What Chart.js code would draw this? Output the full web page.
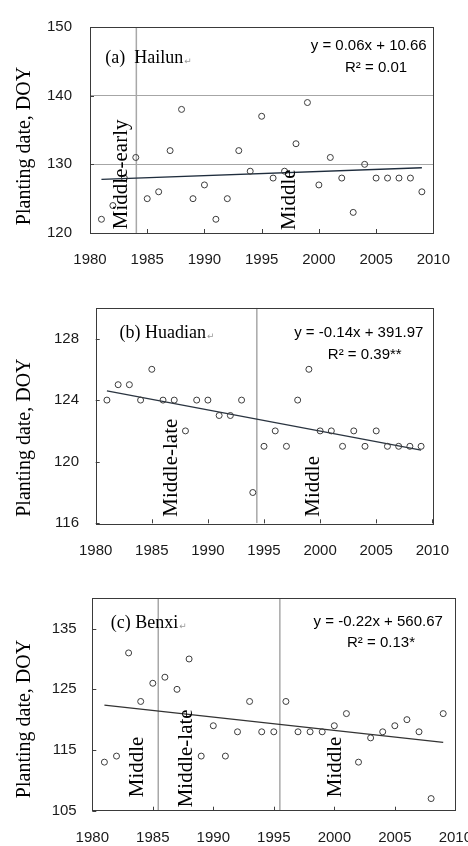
<!DOCTYPE html>
<html>
<head>
<meta charset="utf-8">
<script src="https://cdn.jsdelivr.net/npm/chart.js@4"></script>
<style>
  html, body { margin: 0; padding: 0; width: 468px; height: 846px; overflow: hidden; background: #fff; }
  canvas { position: absolute; left: 0; }
</style>
</head>
<body>
<canvas id="chartA" width="468" height="280" style="top:0px"></canvas>
<canvas id="chartB" width="468" height="285" style="top:280px"></canvas>
<canvas id="chartC" width="490" height="281" style="top:565px"></canvas>
<script>
//data
var years = [1981, 1982, 1983, 1984, 1985, 1986, 1987, 1988, 1989, 1990,
  1991, 1992, 1993, 1994, 1995, 1996, 1997, 1998, 1999, 2000,
  2001, 2002, 2003, 2004, 2005, 2006, 2007, 2008, 2009];

var hailun = [122, 124, 128, 131, 125, 126, 132, 138, 125, 127,
  122, 125, 132, 129, 137, 128, 129, 133, 139, 127,
  131, 128, 123, 130, 128, 128, 128, 128, 126];
var huadian = [124, 125, 125, 124, 126, 124, 124, 122, 124, 124,
  123, 123, 124, 118, 121, 122, 121, 124, 126, 122,
  122, 121, 122, 121, 122, 121, 121, 121, 121];
var benxi = [113, 114, 131, 123, 126, 127, 125, 130, 114, 119,
  114, 118, 123, 118, 118, 123, 118, 118, 118, 119,
  121, 113, 117, 118, 119, 120, 118, 107, 121];

// trend line ends
var trendYears = [1981, 2009];
var trendA = [127.8, 129.5];
var trendB = [124.6, 120.75];
var trendC = [122.4, 116.25];

// years where the cultivar period changes
var breaksA = [1984.05];
var breaksB = [1994.36];
var breaksC = [1985.45, 1995.5];

var xTicks = [1980, 1985, 1990, 1995, 2000, 2005, 2010];
var yTicksA = [120, 130, 140, 150];
var yTicksB = [116, 120, 124, 128];
var yTicksC = [105, 115, 125, 135];

var sans = '"Liberation Sans", Arial, sans-serif';
var serif = '"Liberation Serif", "Times New Roman", serif';

function toPoints(xs, ys) {
  return xs.map(function (x, i) { return { x: x, y: ys[i] }; });
}

function drawLabel(ctx, chart, item) {
  var px = chart.scales.x.getPixelForValue(item.x);
  var py = chart.scales.y.getPixelForValue(item.y);
  ctx.save();
  ctx.translate(px, py);
  if (item.rotate) ctx.rotate(-Math.PI / 2);
  ctx.font = item.font;
  ctx.fillStyle = '#000';
  ctx.textAlign = item.align || 'left';
  ctx.textBaseline = 'middle';
  ctx.fillText(item.text, 0, 0);
  if (item.mark) {
    var w = ctx.measureText(item.text).width;
    ctx.font = '9px "DejaVu Sans"';
    ctx.fillStyle = '#9a9a9a';
    ctx.textAlign = 'left';
    ctx.fillText('\u21b5', w + 1, 3);
  }
  ctx.restore();
}

function makePanel(id, p) {
  var canvas = document.getElementById(id);
  var W = canvas.width, H = canvas.height;

  var datasets = [{
    type: 'scatter',
    data: toPoints(years, p.values),
    pointRadius: 3,
    pointBorderWidth: 1,
    pointBorderColor: '#3c3c3c',
    pointBackgroundColor: 'rgba(255,255,255,0)',
    showLine: false
  }, {
    type: 'line',
    data: toPoints(trendYears, p.trend),
    borderColor: p.trendColor,
    borderWidth: 1.3,
    pointRadius: 0,
    fill: false
  }];
  p.breaks.forEach(function (b) {
    datasets.push({
      type: 'line',
      data: [{ x: b, y: p.yMin }, { x: b, y: p.yMax }],
      borderColor: '#a8a8a8',
      borderWidth: 1.5,
      pointRadius: 0,
      fill: false
    });
  });

  var deco = {
    id: 'deco' + id,
    afterDraw: function (chart) {
      var ctx = chart.ctx, a = chart.chartArea;
      ctx.save();
      // inner ticks on both axes
      ctx.strokeStyle = '#404040';
      ctx.lineWidth = 1;
      xTicks.forEach(function (t) {
        var x = Math.round(chart.scales.x.getPixelForValue(t)) + 0.5;
        ctx.beginPath();
        ctx.moveTo(x, a.bottom);
        ctx.lineTo(x, a.bottom - 4);
        ctx.stroke();
      });
      p.yTicks.forEach(function (t) {
        var y = Math.round(chart.scales.y.getPixelForValue(t)) + 0.5;
        ctx.beginPath();
        ctx.moveTo(a.left, y);
        ctx.lineTo(a.left + 4, y);
        ctx.stroke();
      });
      // frame
      ctx.strokeStyle = '#3a3a3a';
      ctx.strokeRect(Math.round(a.left) + 0.5, Math.round(a.top) + 0.5,
        Math.round(a.right - a.left), Math.round(a.bottom - a.top));
      // axis title
      ctx.translate(25, p.titleY);
      ctx.rotate(-Math.PI / 2);
      ctx.font = '20px ' + serif;
      ctx.fillStyle = '#000';
      ctx.textAlign = 'center';
      ctx.textBaseline = 'middle';
      ctx.fillText('Planting date, DOY', 0, 0);
      ctx.restore();
      p.labels.forEach(function (item) { drawLabel(ctx, chart, item); });
    }
  };

  return new Chart(canvas, {
    data: { datasets: datasets },
    options: {
      responsive: false,
      animation: false,
      events: [],
      layout: { padding: { left: 0, top: p.top, right: W - p.right, bottom: 0 } },
      plugins: { legend: { display: false }, tooltip: { enabled: false } },
      scales: {
        x: {
          type: 'linear',
          min: 1980,
          max: 2010,
          afterBuildTicks: function (s) { s.ticks = xTicks.map(function (v) { return { value: v }; }); },
          afterFit: function (s) { s.height = H - p.bottom; },
          grid: { display: false, drawTicks: false },
          border: { display: false },
          ticks: {
            padding: p.xPad, color: '#1a1a1a', font: { family: sans, size: 15 },
            maxRotation: 0, autoSkip: false,
            callback: function (v) { return String(v); }
          }
        },
        y: {
          type: 'linear',
          min: p.yMin,
          max: p.yMax,
          afterBuildTicks: function (s) { s.ticks = p.yTicks.map(function (v) { return { value: v }; }); },
          afterFit: function (s) { s.width = p.left; },
          grid: p.grid ?
            { color: '#a6a6a6', lineWidth: 1, drawTicks: false } :
            { display: false, drawTicks: false },
          border: { display: false },
          ticks: {
            padding: p.yPad, color: '#1a1a1a', font: { family: sans, size: 15 },
            callback: function (v) { return String(v); }
          }
        }
      }
    },
    plugins: [deco]
  });
}

makePanel('chartA', {
  values: hailun, trend: trendA, breaks: breaksA, yTicks: yTicksA,
  yMin: 120, yMax: 150, grid: true, trendColor: '#1f2d3d',
  left: 90, right: 450, top: 17, bottom: 233, xPad: 18, yPad: 18, titleY: 146,
  labels: [
    { text: '(a)  Hailun', x: 1981.33, y: 145.4, font: '18px ' + serif, mark: true },
    { text: 'y = 0.06x + 10.66', x: 2009.42, y: 147.2, font: '15px ' + sans, align: 'right' },
    { text: 'R\u00b2 = 0.01', x: 2005, y: 144.0, font: '15px ' + sans, align: 'center' },
    { text: 'Middle-early', x: 1982.75, y: 120.56, font: '21px ' + serif, rotate: true },
    { text: 'Middle', x: 1997.42, y: 120.42, font: '21px ' + serif, rotate: true }
  ]
});

makePanel('chartB', {
  values: huadian, trend: trendB, breaks: breaksB, yTicks: yTicksB,
  yMin: 116, yMax: 130, grid: false, trendColor: '#2a3440',
  left: 95.7, right: 449.3, top: 27.7, bottom: 243.3, xPad: 19, yPad: 16.7, titleY: 157.6,
  labels: [
    { text: '(b) Huadian', x: 1982.12, y: 128.34, font: '18px ' + serif, mark: true },
    { text: 'y = -0.14x + 391.97', x: 2009.21, y: 128.34, font: '15px ' + sans, align: 'right' },
    { text: 'R\u00b2 = 0.39**', x: 2003.98, y: 126.93, font: '15px ' + sans, align: 'center' },
    { text: 'Middle-late', x: 1986.73, y: 116.43, font: '21px ' + serif, rotate: true },
    { text: 'Middle', x: 1999.45, y: 116.43, font: '21px ' + serif, rotate: true }
  ]
});

makePanel('chartC', {
  values: benxi, trend: trendC, breaks: breaksC, yTicks: yTicksC,
  yMin: 105, yMax: 140, grid: false, trendColor: '#333333',
  left: 92.3, right: 459.3, top: 33.3, bottom: 245.7, xPad: 18, yPad: 15.6, titleY: 154,
  labels: [
    { text: '(c) Benxi', x: 1981.53, y: 135.88, font: '18px ' + serif, mark: true },
    { text: 'y = -0.22x + 560.67', x: 2008.97, y: 136.14, font: '15px ' + sans, align: 'right' },
    { text: 'R\u00b2 = 0.13*', x: 2003.86, y: 132.68, font: '15px ' + sans, align: 'center' },
    { text: 'Middle', x: 1983.76, y: 107.21, font: '21px ' + serif, rotate: true },
    { text: 'Middle-late', x: 1987.77, y: 105.56, font: '21px ' + serif, rotate: true },
    { text: 'Middle', x: 2000.11, y: 107.21, font: '21px ' + serif, rotate: true }
  ]
});
</script>
</body>
</html>
